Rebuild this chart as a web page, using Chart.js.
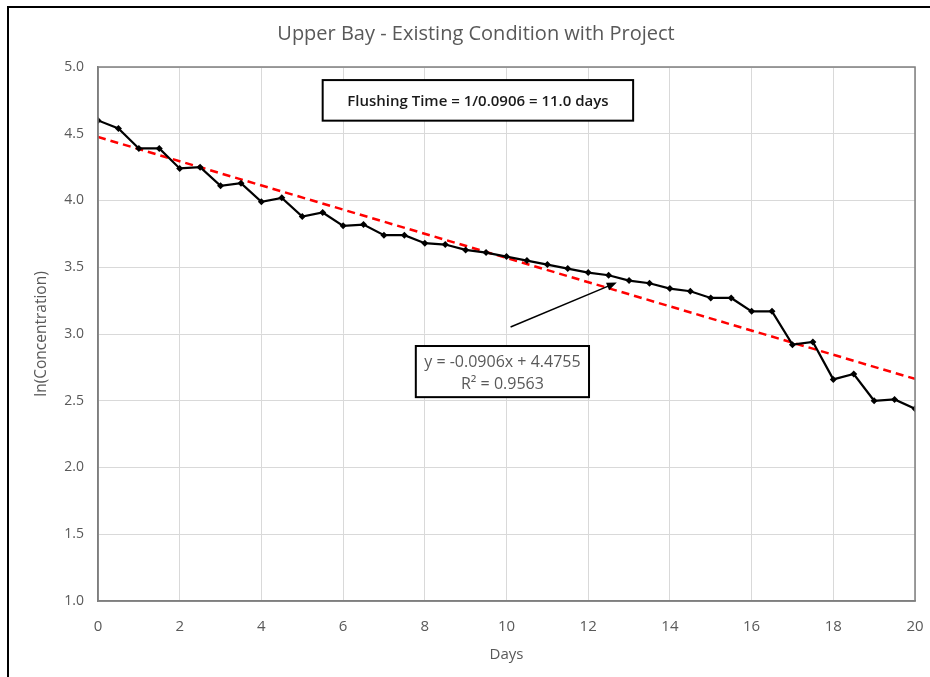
<!DOCTYPE html>
<html>
<head>
<meta charset="utf-8">
<title>Upper Bay - Existing Condition with Project</title>
<script src="https://cdn.jsdelivr.net/npm/chart.js@4.4.1/dist/chart.umd.min.js"></script>
<style>
  html, body { margin: 0; padding: 0; background: #fff; }
  #wrap { position: relative; width: 930px; height: 677px; overflow: hidden; }
  #frame { position: absolute; left: 7px; top: 6px; width: 960px; height: 720px;
           border-left: 2px solid #000; border-top: 2px solid #000; pointer-events: none; }
  canvas { position: absolute; left: 0; top: 0; }
</style>
</head>
<body>
<div id="wrap">
  <canvas id="chart" width="930" height="677"></canvas>
  <div id="frame"></div>
</div>
<script>
// Sampling times (days) and natural log of tracer concentration
const days = [0, 0.5, 1, 1.5, 2, 2.5, 3, 3.5, 4, 4.5, 5, 5.5, 6, 6.5, 7, 7.5, 8, 8.5, 9, 9.5,
              10, 10.5, 11, 11.5, 12, 12.5, 13, 13.5, 14, 14.5, 15, 15.5, 16, 16.5, 17, 17.5,
              18, 18.5, 19, 19.5, 20];
const lnConc = [4.60, 4.54, 4.39, 4.39, 4.24, 4.25, 4.11, 4.13, 3.99, 4.02, 3.88, 3.91,
                3.81, 3.82, 3.74, 3.74, 3.68, 3.67, 3.63, 3.61, 3.58, 3.55, 3.52, 3.49,
                3.46, 3.44, 3.40, 3.38, 3.34, 3.32, 3.27, 3.27, 3.17, 3.17, 2.92, 2.94,
                2.66, 2.70, 2.50, 2.51, 2.44];

// Linear fit of ln(C) versus time
const trendSlope = -0.0906;
const trendIntercept = 4.4755;
const rSquared = 0.9563;
const trendRange = [0, 20];

// Axis ticks
const xTicks = [0, 2, 4, 6, 8, 10, 12, 14, 16, 18, 20];
const yTicks = [1.0, 1.5, 2.0, 2.5, 3.0, 3.5, 4.0, 4.5, 5.0];

// Text
const chartTitle = 'Upper Bay - Existing Condition with Project';
const xTitle = 'Days';
const yTitle = 'ln(Concentration)';
const flushingLabel = 'Flushing Time = 1/0.0906 = 11.0 days';
const equationLines = ['y = -0.0906x + 4.4755', 'R\u00b2 = 0.9563'];

const FONT = '"Open Sans", "Noto Sans", sans-serif';
const GREY_TEXT = '#595959';

const seriesPoints = days.map((d, i) => ({ x: d, y: lnConc[i] }));
const trendPoints = trendRange.map(d => ({ x: d, y: trendSlope * d + trendIntercept }));

// Decorations: title, axis titles, plot frame, callout boxes and arrow
const decorations = {
  id: 'decorations',
  afterDraw(chart) {
    const { ctx, chartArea: a, scales: { x, y } } = chart;
    ctx.save();

    // plot frame (top and right edges)
    ctx.strokeStyle = '#7f7f7f';
    ctx.lineWidth = 1.5;
    ctx.strokeRect(a.left, a.top, a.right - a.left, a.bottom - a.top);

    // title
    ctx.fillStyle = GREY_TEXT;
    ctx.textAlign = 'center';
    ctx.textBaseline = 'middle';
    ctx.font = '20px ' + FONT;
    ctx.fillText(chartTitle, 476, 34);

    // axis titles
    ctx.font = '15px ' + FONT;
    ctx.fillText(xTitle, x.getPixelForValue(10), 655);
    ctx.save();
    ctx.translate(42, y.getPixelForValue(3));
    ctx.rotate(-Math.PI / 2);
    ctx.font = '15.5px ' + FONT;
    ctx.fillText(yTitle, 0, 0);
    ctx.restore();

    // arrow pointing at the fitted line
    const x0 = x.getPixelForValue(10.1), y0 = y.getPixelForValue(3.052);
    const x1 = x.getPixelForValue(12.7), y1 = y.getPixelForValue(3.385);
    const ang = Math.atan2(y1 - y0, x1 - x0);
    ctx.strokeStyle = '#000';
    ctx.fillStyle = '#000';
    ctx.lineWidth = 1.5;
    ctx.beginPath();
    ctx.moveTo(x0, y0);
    ctx.lineTo(x1 - 6 * Math.cos(ang), y1 - 6 * Math.sin(ang));
    ctx.stroke();
    ctx.beginPath();
    ctx.moveTo(x1, y1);
    ctx.lineTo(x1 - 10 * Math.cos(ang) + 4 * Math.sin(ang), y1 - 10 * Math.sin(ang) - 4 * Math.cos(ang));
    ctx.lineTo(x1 - 10 * Math.cos(ang) - 4 * Math.sin(ang), y1 - 10 * Math.sin(ang) + 4 * Math.cos(ang));
    ctx.closePath();
    ctx.fill();

    // flushing time box
    const bx0 = x.getPixelForValue(5.5), bx1 = x.getPixelForValue(13.1);
    const by0 = y.getPixelForValue(4.902), by1 = y.getPixelForValue(4.598);
    ctx.fillStyle = '#fff';
    ctx.fillRect(bx0, by0, bx1 - bx0, by1 - by0);
    ctx.strokeStyle = '#000';
    ctx.lineWidth = 2;
    ctx.strokeRect(bx0, by0, bx1 - bx0, by1 - by0);
    ctx.fillStyle = '#1a1a1a';
    ctx.font = '600 15px ' + FONT;
    ctx.textAlign = 'center';
    ctx.fillText(flushingLabel, (bx0 + bx1) / 2, (by0 + by1) / 2 + 1);

    // regression equation box
    const ex0 = x.getPixelForValue(7.78), ex1 = x.getPixelForValue(12.02);
    const ey0 = y.getPixelForValue(2.91), ey1 = y.getPixelForValue(2.527);
    ctx.fillStyle = '#fff';
    ctx.fillRect(ex0, ey0, ex1 - ex0, ey1 - ey0);
    ctx.strokeStyle = '#000';
    ctx.lineWidth = 2;
    ctx.strokeRect(ex0, ey0, ex1 - ex0, ey1 - ey0);
    ctx.fillStyle = GREY_TEXT;
    ctx.font = '16px ' + FONT;
    const ecx = (ex0 + ex1) / 2;
    ctx.fillText(equationLines[0], ecx, ey0 + 16);
    ctx.fillText(equationLines[1], ecx, ey0 + 38);

    ctx.restore();
  }
};

new Chart(document.getElementById('chart'), {
  type: 'scatter',
  data: {
    datasets: [
      {
        label: 'ln(Concentration)',
        data: seriesPoints,
        showLine: true,
        borderColor: '#000',
        borderWidth: 2.2,
        backgroundColor: '#000',
        pointStyle: 'rectRot',
        pointRadius: 3.5,
        pointBorderWidth: 0,
        tension: 0
      },
      {
        label: 'Linear fit',
        data: trendPoints,
        showLine: true,
        borderColor: '#ff0000',
        borderWidth: 2.5,
        borderDash: [8, 5],
        pointRadius: 0,
        tension: 0
      }
    ]
  },
  options: {
    responsive: false,
    animation: false,
    events: [],
    layout: { padding: { left: 0, top: 67, right: 15, bottom: 0 } },
    plugins: { legend: { display: false }, tooltip: { enabled: false }, title: { display: false } },
    scales: {
      x: {
        type: 'linear',
        min: 0, max: 20,
        afterBuildTicks: s => { s.ticks = xTicks.map(v => ({ value: v })); },
        afterFit: s => { s.height = 76; s.paddingLeft = 0; s.paddingRight = 0; },
        grid: { color: '#d9d9d9', lineWidth: 1, drawTicks: false, tickLength: 0 },
        border: { display: true, color: '#7f7f7f', width: 1.5 },
        ticks: { padding: 17, color: GREY_TEXT, font: { family: FONT, size: 15 }, maxRotation: 0,
                 callback: v => String(v) }
      },
      y: {
        type: 'linear',
        min: 1, max: 5,
        afterBuildTicks: s => { s.ticks = yTicks.map(v => ({ value: v })); },
        afterFit: s => { s.width = 98; s.paddingTop = 0; s.paddingBottom = 0; },
        grid: { color: '#d9d9d9', lineWidth: 1, drawTicks: false, tickLength: 0 },
        border: { display: true, color: '#7f7f7f', width: 1.5 },
        ticks: { padding: 14, color: GREY_TEXT, font: { family: FONT, size: 14 },
                 callback: v => Number(v).toFixed(1) }
      }
    }
  },
  plugins: [decorations]
});
</script>
</body>
</html>
